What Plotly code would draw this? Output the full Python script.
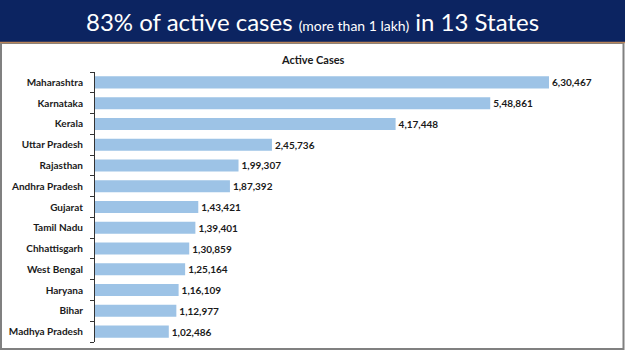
import plotly.graph_objects as go

states = ["Maharashtra", "Karnataka", "Kerala", "Uttar Pradesh", "Rajasthan",
          "Andhra Pradesh", "Gujarat", "Tamil Nadu", "Chhattisgarh", "West Bengal",
          "Haryana", "Bihar", "Madhya Pradesh"]
active_cases = [630467, 548861, 417448, 245736, 199307, 187392, 143421, 139401,
                130859, 125164, 116109, 112977, 102486]


def indian_format(n):
    s = str(n)
    if len(s) <= 3:
        return s
    last3 = s[-3:]
    rest = s[:-3]
    groups = []
    while len(rest) > 2:
        groups.insert(0, rest[-2:])
        rest = rest[:-2]
    if rest:
        groups.insert(0, rest)
    return ",".join(groups) + "," + last3


labels = ["<b>" + indian_format(v) + "</b>" for v in active_cases]

W, H = 625, 351
ML, MR, MT, MB = 95, 5, 72, 9
PW = W - ML - MR
PH = H - MT - MB


def px(x):
    return (x - ML) / PW


def py(y):
    return (H - MB - y) / PH


NAVY = "#0c2461"
BAR = "#9dc3e6"
TXT = "#1a1a1a"
FONT = "Lato"

fig = go.Figure()
fig.add_trace(go.Bar(
    x=active_cases, y=states, orientation="h",
    marker=dict(color=BAR, line=dict(width=0)),
    text=labels, textposition="outside", cliponaxis=False,
    textfont=dict(family=FONT, size=10, color=TXT),
    width=0.58, hoverinfo="skip",
))
# invisible trace to carry boundary ticks on a second axis
fig.add_trace(go.Scatter(x=[None], y=[None], yaxis="y2", showlegend=False))

xmax = 630467 * PW / 454

fig.update_layout(
    width=W, height=H,
    margin=dict(l=ML, r=MR, t=MT, b=MB),
    paper_bgcolor="white", plot_bgcolor="white",
    showlegend=False,
    xaxis=dict(range=[0, xmax], visible=False, fixedrange=True),
    yaxis=dict(categoryorder="array", categoryarray=states,
               range=[12.5, -0.5], showline=True, linecolor="#333333",
               linewidth=1, ticks="", ticklabelstandoff=9,
               tickfont=dict(family=FONT, size=10, color=TXT, weight="bold"),
               showgrid=False, zeroline=False),
    yaxis2=dict(overlaying="y", range=[12.5, -0.5], side="left",
                tickvals=[i - 0.5 for i in range(len(states) + 1)],
                ticks="outside", ticklen=4, tickcolor="#333333",
                showticklabels=False, showgrid=False, zeroline=False,
                showline=False),
    shapes=[
        dict(type="rect", xref="paper", yref="paper",
             x0=px(0), x1=px(W), y0=py(42), y1=py(0),
             fillcolor=NAVY, line=dict(width=0), layer="below"),
        dict(type="rect", xref="paper", yref="paper",
             x0=px(1), x1=px(623.5), y0=py(349), y1=py(43),
             fillcolor="rgba(0,0,0,0)", line=dict(color="#808080", width=2)),
        dict(type="line", xref="paper", yref="paper",
             x0=px(0), x1=px(W), y0=py(42.5), y1=py(42.5),
             line=dict(color="#b9855a", width=1.5)),
    ],
    annotations=[
        dict(xref="paper", yref="paper", x=px(312), y=py(21),
             xanchor="center", yanchor="middle", showarrow=False,
             text="83% of active cases <span style='font-size:14px'>(more than 1 lakh)</span> in 13 States",
             font=dict(family=FONT, size=24, color="white")),
        dict(xref="paper", yref="paper", x=px(313), y=py(59),
             xanchor="center", yanchor="middle", showarrow=False,
             text="<b>Active Cases</b>",
             font=dict(family=FONT, size=11, color=TXT)),
    ],
)

fig.write_html("out.html")
